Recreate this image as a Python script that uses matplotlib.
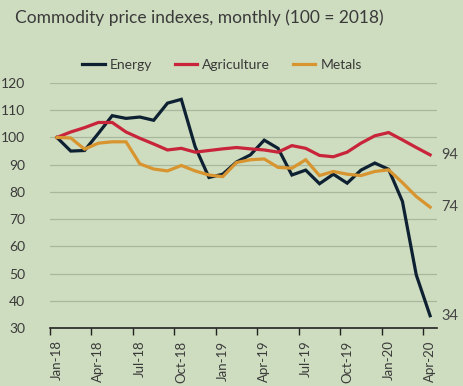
import matplotlib
matplotlib.use("Agg")
import matplotlib.pyplot as plt

months = ["Jan-18","Feb-18","Mar-18","Apr-18","May-18","Jun-18","Jul-18","Aug-18","Sep-18","Oct-18",
          "Nov-18","Dec-18","Jan-19","Feb-19","Mar-19","Apr-19","May-19","Jun-19","Jul-19","Aug-19",
          "Sep-19","Oct-19","Nov-19","Dec-19","Jan-20","Feb-20","Mar-20","Apr-20"]
energy = [100, 95, 95.2, 101.5, 108, 107, 107.5, 106.3, 112.6, 114,
          96.6, 85.3, 86.5, 91, 93.6, 99, 96, 86.2, 88, 83,
          86.5, 83.2, 88, 90.6, 88.3, 76.5, 49.5, 34.5]
agriculture = [100, 102, 103.6, 105.5, 105.5, 102, 99.7, 97.6, 95.4, 96,
               94.6, 95.2, 95.8, 96.3, 95.8, 95.4, 94.6, 97, 96, 93.4,
               92.9, 94.6, 97.9, 100.6, 101.8, 99.1, 96.3, 93.6]
metals = [100, 99.8, 95.7, 97.9, 98.4, 98.4, 90.3, 88.4, 87.7, 89.7,
          87.7, 86.2, 85.6, 90.8, 91.8, 92.1, 89, 88.7, 91.8, 86,
          87.5, 86.5, 86, 87.5, 88.1, 83.4, 78.3, 74.4]
end_labels = ["94", "74", "34"]
series_names = ["Energy", "Agriculture", "Metals"]
yticks = [30, 40, 50, 60, 70, 80, 90, 100, 110, 120]

colors = ["#0e2133", "#c8243a", "#d8952f"]
bg = "#cedcbf"
txt = "#3a3a3a"
plt.rcParams['font.family'] = ['Lato', 'DejaVu Sans']

fig = plt.figure(figsize=(4.64, 3.86), dpi=100, facecolor=bg)
ax = fig.add_axes([50/464, 1-328/386, (437-50)/464, (328-83)/386])
ax.set_facecolor(bg)

x = list(range(len(months)))
handles = []
for vals, c, name in zip([energy, agriculture, metals], colors, series_names):
    h, = ax.plot(x, vals, color=c, lw=2.3, label=name, solid_joinstyle='miter', zorder=3)
    handles.append(h)

ax.set_xlim(-0.5, len(months) - 0.5)
ax.set_ylim(30, 120)
ax.set_yticks(yticks)
ax.set_yticklabels([str(v) for v in yticks], color=txt, fontsize=10)
ax.grid(axis='y', color='#a9b89c', lw=0.9)
ax.tick_params(axis='y', length=0, pad=18)

# category axis: ticks at boundaries, labels at centers
ax.set_xticks([i - 0.5 for i in range(0, len(months), 3)])
ax.set_xticklabels([])
ax.tick_params(axis='x', which='major', length=5, width=1, color='#222222', direction='out')
ax.set_xticks(list(range(0, len(months), 3)), minor=True)
ax.set_xticklabels([months[i] for i in range(0, len(months), 3)], minor=True,
                   rotation=90, fontsize=9.5, color=txt)
ax.tick_params(axis='x', which='minor', length=0, pad=9)

for s in ['top', 'right', 'left']:
    ax.spines[s].set_visible(False)
ax.spines['bottom'].set_color('#222222')
ax.spines['bottom'].set_linewidth(1.2)

for vals, lab in zip([agriculture, metals, energy], end_labels):
    ax.annotate(lab, (x[-1], vals[-1]), xytext=(8, 0), textcoords='offset points',
                va='center', ha='left', fontsize=10.5, color='#454545', annotation_clip=False)

fig.text(15/464, 1-18/386, "Commodity price indexes, monthly (100 = 2018)", fontsize=12.5,
         color=txt, va='center', ha='left')
fig.legend(handles=handles, loc='center', bbox_to_anchor=(222/464, 1-65/386), ncol=3,
           frameon=False, fontsize=10, handlelength=1.6, columnspacing=1.6,
           handletextpad=0.4, labelcolor=txt)

fig.savefig("out.png", dpi=100, facecolor=bg)
